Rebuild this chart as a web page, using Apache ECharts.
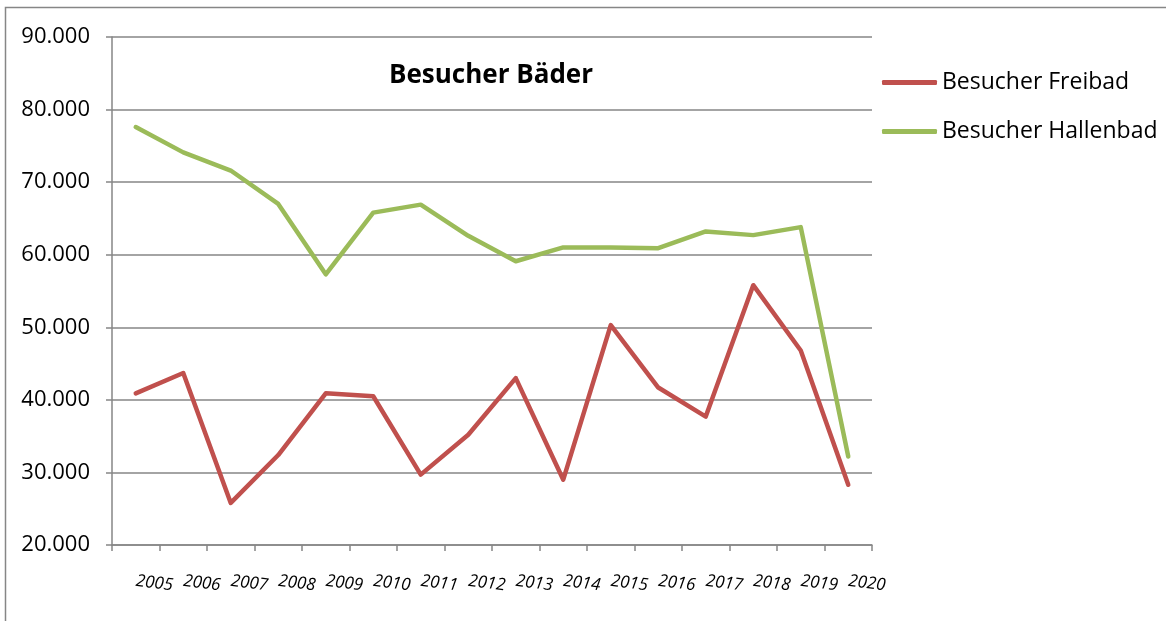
<!DOCTYPE html>
<html>
<head>
<meta charset="utf-8">
<script src="https://cdn.jsdelivr.net/npm/echarts@6/dist/echarts.min.js"></script>
<style>
  html, body { margin: 0; padding: 0; background: #fff; }
  #main { width: 1166px; height: 621px; }
</style>
</head>
<body>
<div id="main"></div>
<script>
var years = ['2005', '2006', '2007', '2008', '2009', '2010', '2011', '2012',
  '2013', '2014', '2015', '2016', '2017', '2018', '2019', '2020'];
var freibad = [40900, 43700, 25800, 32400, 40900, 40500, 29700, 35200,
  43000, 29000, 50300, 41700, 37700, 55800, 46800, 28300];
var hallenbad = [77600, 74100, 71600, 67000, 57300, 65800, 66900, 62600,
  59100, 61000, 61000, 60900, 63200, 62700, 63800, 32200];
var seriesNames = ['Besucher Freibad', 'Besucher Hallenbad'];

var font = 'Open Sans';
var chart = echarts.init(document.getElementById('main'));

var option = {
  backgroundColor: '#fff',
  animation: false,
  color: ['#C0504D', '#9BBB59'],
  title: {
    text: 'Besucher Bäder',
    left: 384,
    top: 58,
    textStyle: { fontFamily: font, fontWeight: 'bold', fontSize: 26, color: '#000' }
  },
  legend: {
    data: seriesNames,
    orient: 'vertical',
    left: 877,
    top: 66,
    icon: 'roundRect',
    itemWidth: 55,
    itemHeight: 5,
    itemGap: 26,
    textStyle: { fontFamily: font, fontSize: 23, color: '#000' }
  },
  grid: { left: 112, right: 294, top: 37, bottom: 76 },
  xAxis: {
    type: 'category',
    data: years,
    boundaryGap: true,
    axisLine: { lineStyle: { color: '#868686', width: 1.5 } },
    axisTick: { show: true, length: 6, lineStyle: { color: '#868686', width: 1.5 } },
    axisLabel: {
      interval: 0,
      rotate: -7,
      margin: 36,
      fontFamily: font,
      fontStyle: 'italic',
      fontSize: 17,
      color: '#000'
    }
  },
  yAxis: {
    type: 'value',
    min: 20000,
    max: 90000,
    interval: 10000,
    axisLine: { show: true, lineStyle: { color: '#868686', width: 1.5 } },
    axisTick: { show: true, length: 6, lineStyle: { color: '#868686', width: 1.5 } },
    splitLine: { lineStyle: { color: '#868686', width: 1.5 } },
    axisLabel: {
      margin: 22,
      fontFamily: font,
      fontSize: 22,
      color: '#000',
      formatter: function (v) { return (v / 1000) + '.000'; }
    }
  },
  series: [
    {
      name: seriesNames[0],
      type: 'line',
      data: freibad,
      symbol: 'none',
      lineStyle: { width: 4.5, color: '#C0504D', cap: 'round', join: 'round' }
    },
    {
      name: seriesNames[1],
      type: 'line',
      data: hallenbad,
      symbol: 'none',
      lineStyle: { width: 4.5, color: '#9BBB59', cap: 'round', join: 'round' }
    }
  ],
  graphic: [
    {
      type: 'polyline',
      shape: { points: [[5.5, 621], [5.5, 7.5], [1166, 7.5]] },
      style: { stroke: '#868686', lineWidth: 1.5, fill: null }
    }
  ]
};

chart.setOption(option);
</script>
</body>
</html>
